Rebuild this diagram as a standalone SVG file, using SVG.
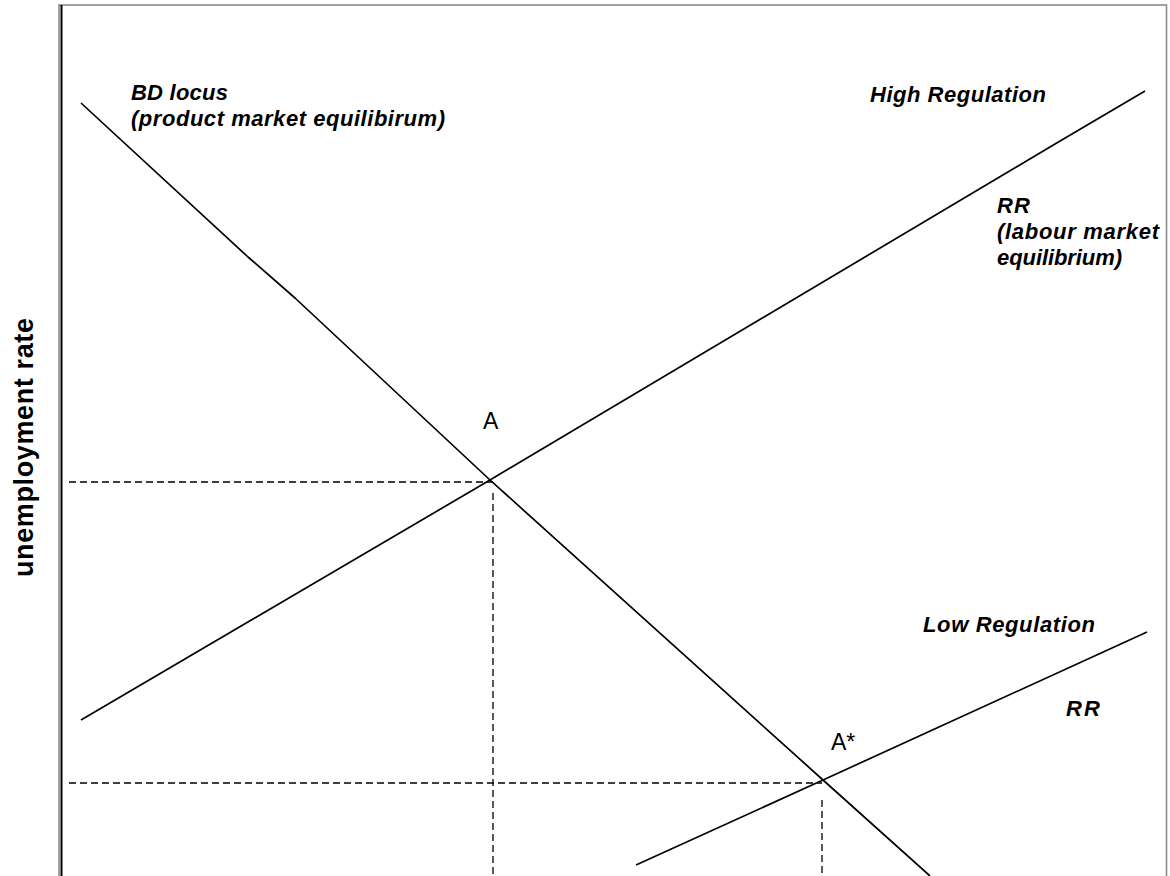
<svg xmlns="http://www.w3.org/2000/svg" width="1170" height="876" viewBox="0 0 1170 876">
<style>
.curve{fill:none;stroke:#000;stroke-width:1.7;stroke-linejoin:round}
.dash{fill:none;stroke:#000;stroke-width:1.3;stroke-dasharray:7 4}
.lab{font-family:"Liberation Sans",Arial,sans-serif;font-size:22px;font-weight:bold;font-style:italic;fill:#000}
.pt{font-family:"Liberation Sans",Arial,sans-serif;font-size:23px;fill:#000}
.axl{font-family:"Liberation Sans",Arial,sans-serif;font-size:27px;font-weight:bold;fill:#000}
</style>
<rect x="0" y="0" width="1170" height="876" fill="#fff"/>
<g id="frame">
<rect x="59" y="5" width="1107.5" height="900" fill="#fff" stroke="#8a8a8a" stroke-width="1.6"/>
<line x1="61.5" y1="5" x2="61.5" y2="876" stroke="#000" stroke-width="2"/>
</g>
<g id="connectors">
<polyline id="bd-locus" class="curve" points="81,103 248,257 295,298 490,480 823,780 930,876"/>
<polyline id="rr-high" class="curve" points="81,720 490,480 1055,144 1145,91"/>
<polyline id="rr-low" class="curve" points="636,865 823,780 1147,632"/>
<line class="dash" x1="69" y1="482" x2="493" y2="482"/>
<line class="dash" x1="493" y1="493" x2="493" y2="876"/>
<line class="dash" x1="69" y1="783" x2="822" y2="783"/>
<line class="dash" x1="822" y1="800" x2="822" y2="876"/>
</g>
<g id="labels">
<text class="lab" x="131" y="100" textLength="97" lengthAdjust="spacing">BD locus</text>
<text class="lab" x="131" y="126" textLength="314" lengthAdjust="spacing">(product market equilibirum)</text>
<text class="lab" x="870" y="102" textLength="176" lengthAdjust="spacing">High Regulation</text>
<text class="lab" x="997" y="213" textLength="33" lengthAdjust="spacing">RR</text>
<text class="lab" x="997" y="239" textLength="162" lengthAdjust="spacing">(labour market</text>
<text class="lab" x="997" y="265" textLength="125" lengthAdjust="spacing">equilibrium)</text>
<text class="lab" x="923" y="632" textLength="172" lengthAdjust="spacing">Low Regulation</text>
<text class="lab" x="1066" y="716" textLength="34" lengthAdjust="spacing">RR</text>
<text class="pt" x="483" y="429">A</text>
<text class="pt" x="831" y="750">A*</text>
<text class="axl" transform="translate(33,447.5) rotate(-90)" text-anchor="middle" textLength="259" lengthAdjust="spacing">unemployment rate</text>
</g>
</svg>
